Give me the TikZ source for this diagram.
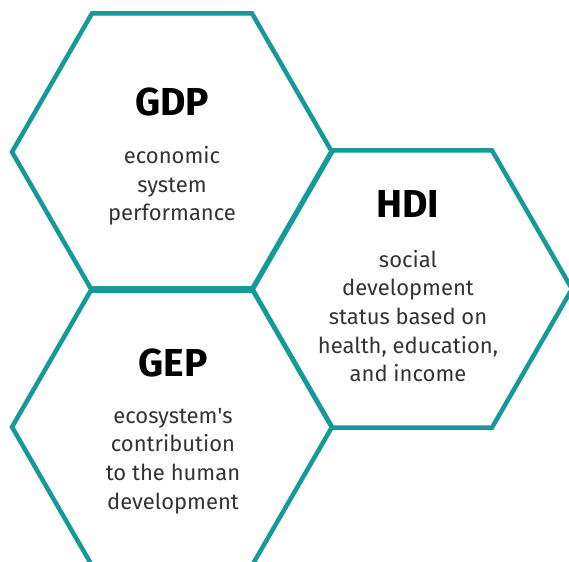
\documentclass[tikz,border=0pt]{standalone}
\usepackage{fontspec}
\setmainfont{Fira Sans}
\usepackage{tikz}
\usetikzlibrary{shapes.geometric}
\definecolor{hexteal}{HTML}{16999A}
\definecolor{bodyink}{HTML}{333333}

\begin{document}
\begin{tikzpicture}[
  x=1pt, y=-1pt,
  hexcell/.style={shape=regular polygon, regular polygon sides=6, minimum size=320pt,
                  inner sep=0pt, draw=hexteal, line width=4.5pt, line join=miter},
  hd/.style={font=\fontsize{39}{44}\selectfont\bfseries, text=black},
  txt/.style={font=\fontsize{22}{28.6}\selectfont, text=bodyink, align=center},
]
\useasboundingbox (0,0) rectangle (569,561);
\node[hexcell] (gdp) at (172,152) {};
\node[hexcell] (hdi) at (412,289) {};
\node[hexcell] (gep) at (172,427) {};
\node[hd] (gdphd) at (172,102) {GDP};
\node[txt] (gdptxt) at (172,186) {economic\\system\\performance};
\node[hd] (hdihd) at (408,204) {HDI};
\node[txt] (hditxt) at (408,316) {social\\development\\status based on\\health, education,\\and income};
\node[hd] (gephd) at (173,363) {GEP};
\node[txt] (geptxt) at (173,461) {ecosystem\textquotesingle s\\contribution\\to the human\\development};
\end{tikzpicture}
\end{document}
